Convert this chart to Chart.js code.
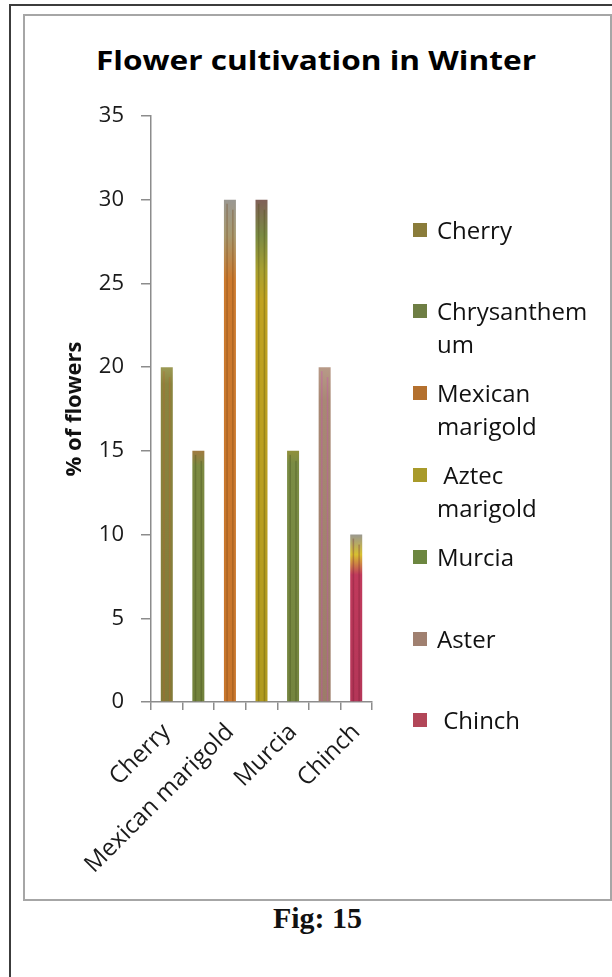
<!DOCTYPE html>
<html>
<head>
<meta charset="utf-8">
<title>Flower cultivation in Winter</title>
<script src="https://cdn.jsdelivr.net/npm/chart.js@4.4.0/dist/chart.umd.min.js"></script>
<style>
    body { margin: 0; width: 612px; height: 977px; overflow: hidden; position: relative; background: #fff; font-family: "Open Sans", sans-serif; }
    #marco { position: absolute; left: 9px; top: 4px; width: 700px; height: 1100px; border: 2px solid #3c3c3c; box-sizing: border-box; }
    #cuadro { position: absolute; left: 23px; top: 14px; width: 589px; height: 887px; border: 2px solid #a6a6a6; box-sizing: border-box; }
    #lienzo { position: absolute; left: 24px; top: 15px; }
    #titulo { position: absolute; left: 0; width: 632px; top: 42px; text-align: center; font-weight: bold; font-size: 27px; line-height: 36px; color: #000; transform: scaleX(1.17); transform-origin: 316px 0; }
    .item { position: absolute; left: 413px; color: #111; font-size: 24px; line-height: 33px; }
    .item span.caja { position: absolute; left: 0; top: 10px; width: 14px; height: 14px; }
    .item div.texto { margin-left: 24px; white-space: nowrap; }
    #pie { position: absolute; left: 0; width: 635px; top: 901px; text-align: center; font-family: "Liberation Serif", serif; font-weight: bold; font-size: 30px; color: #111; }
</style>
</head>
<body>
<div id="marco"></div>
<div id="cuadro"></div>
<div id="titulo">Flower cultivation in Winter</div>
<canvas id="lienzo" width="587" height="885"></canvas>
<div id="leyenda"></div>
<div id="pie">Fig: 15</div>

<script>
const categorias = ['Cherry', 'Chrysanthemum', 'Mexican marigold', 'Aztec marigold', 'Murcia', 'Aster', 'Chinch'];
const porcentajes = [20, 15, 30, 30, 15, 20, 10];
const textosLeyenda = [['Cherry'], ['Chrysanthem', 'um'], ['Mexican', 'marigold'], [' Aztec', 'marigold'], ['Murcia'], ['Aster'], [' Chinch']];
const ticksY = [0, 5, 10, 15, 20, 25, 30, 35];

// tonos de cada barra, de arriba hacia la base
const tonos = [
    [['#9c9a55', 0], ['#8a843e', 0.05], ['#827a38', 1]],
    [['#a07a40', 0], ['#7c8a42', 0.06], ['#72823c', 1]],
    [['#9a9892', 0], ['#a89a70', 0.07], ['#cc7a2e', 0.16], ['#c8762c', 1]],
    [['#806058', 0], ['#7a8a44', 0.07], ['#a8a030', 0.14], ['#c0a220', 0.2], ['#b09a1e', 1]],
    [['#90903a', 0], ['#7a8c44', 0.05], ['#74843e', 1]],
    [['#b89a88', 0], ['#a88874', 0.1], ['#9c7c68', 1]],
    [['#9a9890', 0], ['#d8c030', 0.12], ['#c03a5c', 0.24], ['#b43658', 1]]
];
const colorVeta = ['#c0602a', '#3a4418', '#6a3a10', '#4a4410', '#3a4418', '#d040c0', '#6a1830'];
const coloresLeyenda = ['#8a7c3a', '#6e7e44', '#b4702e', '#a89a2a', '#6c8640', '#a08070', '#b24658'];

function rellenoBarra(ctx) {
    const chart = ctx.chart;
    const escala = chart.scales.y;
    const stops = tonos[ctx.dataIndex];
    if (!chart.chartArea || !escala) return stops[stops.length - 1][0];
    const arriba = escala.getPixelForValue(ctx.raw);
    const base = escala.getPixelForValue(0);
    const g = chart.ctx.createLinearGradient(0, arriba, 0, base);
    stops.forEach(([c, p]) => g.addColorStop(p, c));
    return g;
}

// vetas dentro de cada barra para darle textura
const vetas = {
    id: 'vetas',
    afterDatasetsDraw(chart) {
        const ctx = chart.ctx;
        chart.getDatasetMeta(0).data.forEach((barra, i) => {
            const {x, y, base, width} = barra.getProps(['x', 'y', 'base', 'width'], true);
            const izq = x - width / 2;
            ctx.save();
            ctx.globalAlpha = 0.3;
            ctx.fillStyle = colorVeta[i];
            ctx.fillRect(izq + width * 0.2, y + 4, 1.5, base - y - 4);
            ctx.fillRect(izq + width * 0.68, y + 10, 1.5, base - y - 10);
            ctx.restore();
        });
    }
};

function armarLeyenda() {
    const cont = document.getElementById('leyenda');
    textosLeyenda.forEach((lineas, i) => {
        const item = document.createElement('div');
        item.className = 'item';
        item.style.top = (229 + i * 81.8 - 16.5) + 'px';
        item.innerHTML = `<span class="caja" style="background:${coloresLeyenda[i]}"></span>` +
            `<div class="texto">${lineas.map(l => l.replace(/ /g, '&nbsp;')).join('<br>')}</div>`;
        cont.appendChild(item);
    });
}

const gris = '#8c8c8c';

new Chart(document.getElementById('lienzo'), {
    type: 'bar',
    data: {
        labels: categorias,
        datasets: [{
            data: porcentajes,
            backgroundColor: rellenoBarra,
            borderWidth: 0,
            categoryPercentage: 1,
            barPercentage: 0.38
        }]
    },
    options: {
        responsive: false,
        animation: false,
        devicePixelRatio: 1,
        layout: { padding: { left: 0, right: 239, top: 101, bottom: 0 } },
        plugins: {
            legend: { display: false },
            tooltip: { enabled: false },
            title: { display: false }
        },
        scales: {
            x: {
                grid: { drawOnChartArea: false, drawTicks: true, tickLength: 8, color: gris, offset: true, lineWidth: 1.5 },
                border: { color: gris, width: 1.5 },
                ticks: {
                    autoSkip: false,
                    minRotation: 45,
                    maxRotation: 45,
                    padding: 8,
                    color: '#1a1a1a',
                    font: { family: 'Open Sans', size: 24 },
                    callback: (v, i) => (i % 2 === 0 ? categorias[i] : '')
                },
                afterFit: s => { s.height = 198; }
            },
            y: {
                min: ticksY[0],
                max: ticksY[ticksY.length - 1],
                afterBuildTicks: s => { s.ticks = ticksY.map(v => ({ value: v })); },
                grid: { drawOnChartArea: false, drawTicks: true, tickLength: 10, color: gris, lineWidth: 1.5 },
                border: { color: gris, width: 1.5 },
                ticks: { padding: 17, color: '#1a1a1a', font: { family: 'Open Sans', size: 22 } },
                title: {
                    display: true,
                    text: '% of flowers',
                    color: '#111',
                    font: { family: 'Open Sans', size: 22, weight: 'bold' },
                    padding: { top: 38, bottom: 0 }
                },
                afterFit: s => { s.width = 127; }
            }
        }
    },
    plugins: [vetas]
});

armarLeyenda();
</script>
</body>
</html>
